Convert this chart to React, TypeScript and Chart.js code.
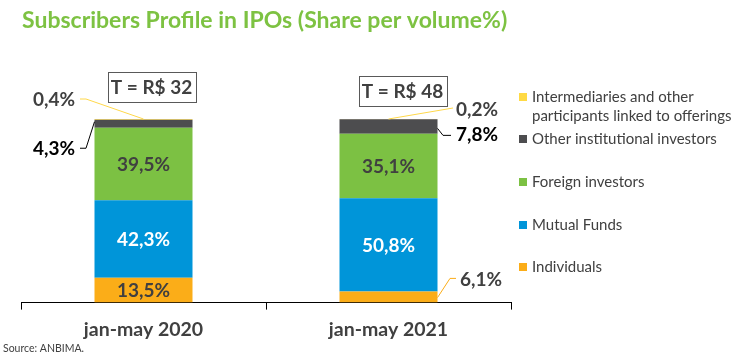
import React, { useEffect, useRef } from 'react';
import { Chart, registerables } from 'chart.js';
Chart.register(...registerables);

const categories = ['jan-may 2020', 'jan-may 2021'];
const totals = ['T = R$ 32', 'T = R$ 48'];
const individuals = [13.5, 6.1];
const mutualFunds = [42.3, 50.8];
const foreignInvestors = [39.5, 35.1];
const otherInstitutional = [4.3, 7.8];
const intermediaries = [0.4, 0.2];
const seriesNames = [
  'Individuals',
  'Mutual Funds',
  'Foreign investors',
  'Other institutional investors',
  'Intermediaries and other participants linked to offerings',
];
const legendLines = [
  ['Individuals'],
  ['Mutual Funds'],
  ['Foreign investors'],
  ['Other institutional investors'],
  ['Intermediaries and other', 'participants linked to offerings'],
];
const titleText = 'Subscribers Profile in IPOs (Share per volume%)';
const sourceText = 'Source: ANBIMA.';

const COLORS = ['#FBAD18', '#0095D9', '#7CC143', '#4D4D4F', '#FFDA44'];
const FONT = 'Lato, "Open Sans", sans-serif';
const DARK = '#404040';

const fmt = (v: number) => v.toFixed(1).replace('.', ',') + '%';

const overlay = {
  id: 'overlay',
  afterDatasetsDraw(chart: any) {
    const ctx = chart.ctx as CanvasRenderingContext2D;
    ctx.save();
    // title
    ctx.font = `bold 23px ${FONT}`;
    ctx.fillStyle = '#7DC242';
    ctx.textAlign = 'left';
    ctx.textBaseline = 'alphabetic';
    ctx.fillText(titleText, 22, 28);

    // source
    ctx.font = `10.5px ${FONT}`;
    ctx.fillStyle = DARK;
    ctx.fillText(sourceText, 3, 352);

    // legend
    const legendY = [267, 225, 182, 139, 97];
    ctx.font = `15px ${FONT}`;
    ctx.textBaseline = 'middle';
    for (let i = 0; i < seriesNames.length; i++) {
      const y = legendY[i];
      ctx.fillStyle = COLORS[i];
      ctx.fillRect(519, y - 4, 8, 8);
      ctx.fillStyle = DARK;
      legendLines[i].forEach((ln, k) => ctx.fillText(ln, 532, y + k * 19));
    }

    const metas = chart.data.datasets.map((_: any, i: number) => chart.getDatasetMeta(i));
    const bar = (ds: number, idx: number) => metas[ds].data[idx] as any;

    // inside labels
    ctx.font = `bold 19px ${FONT}`;
    ctx.textAlign = 'center';
    ctx.textBaseline = 'middle';
    const inside: [number, number, string][] = [
      [0, 0, DARK],
      [1, 0, '#FFFFFF'],
      [2, 0, DARK],
      [1, 1, '#FFFFFF'],
      [2, 1, DARK],
    ];
    inside.forEach(([ds, idx, col]) => {
      const b = bar(ds, idx);
      const v = chart.data.datasets[ds].data[idx];
      ctx.fillStyle = col;
      ctx.fillText(fmt(v), b.x, (b.y + b.base) / 2 + 1);
    });

    // totals boxes
    ctx.font = `bold 19px ${FONT}`;
    const boxOff = [[8, 17], [14, 13]];
    for (let i = 0; i < categories.length; i++) {
      const top = bar(4, i);
      const cx = top.x + boxOff[i][0];
      const bottom = top.y - boxOff[i][1];
      ctx.fillStyle = '#FFFFFF';
      ctx.fillRect(cx - 44, bottom - 30, 88, 30);
      ctx.strokeStyle = '#595959';
      ctx.lineWidth = 1;
      ctx.strokeRect(Math.round(cx - 44) + 0.5, Math.round(bottom - 30) + 0.5, 88, 30);
      ctx.fillStyle = DARK;
      ctx.fillText(totals[i], cx, bottom - 14);
    }

    const line = (pts: number[][], color: string) => {
      ctx.beginPath();
      ctx.strokeStyle = color;
      ctx.lineWidth = 1;
      pts.forEach((p, k) => (k ? ctx.lineTo(p[0], p[1]) : ctx.moveTo(p[0], p[1])));
      ctx.stroke();
    };

    // outside labels, bar 1
    ctx.textAlign = 'left';
    ctx.font = `bold 19px ${FONT}`;
    {
      const y4 = bar(4, 0);
      const y3 = bar(3, 0);
      const left = y4.x - y4.width / 2;
      ctx.fillStyle = DARK;
      ctx.fillText(fmt(intermediaries[0]), 33, y4.y - 19);
      line([[80, y4.y - 20], [86, y4.y - 20], [y4.x, y4.y]], '#FFD84A');
      ctx.fillStyle = '#000000';
      ctx.fillText(fmt(otherInstitutional[0]), 33, y3.y + 29);
      line([[80, y3.y + 28.5], [86, y3.y + 28.5], [left, y3.y + 2]], '#000000');
    }
    // outside labels, bar 2
    {
      const y4 = bar(4, 1);
      const y3 = bar(3, 1);
      const y0 = bar(0, 1);
      const right = y4.x + y4.width / 2;
      ctx.fillStyle = DARK;
      ctx.fillText(fmt(intermediaries[1]), 456, y4.y - 9);
      line([[y4.x, y4.y], [453, y4.y - 11]], '#FFD84A');
      ctx.fillStyle = '#000000';
      ctx.fillText(fmt(otherInstitutional[1]), 456, y3.y + 16);
      line([[right, y3.y + 9], [443, y3.y + 16], [451, y3.y + 16]], '#000000');
      ctx.fillStyle = DARK;
      ctx.fillText(fmt(individuals[1]), 460, y0.y - 12);
      line([[right, y0.base - 5], [450, y0.y - 13], [456, y0.y - 13]], '#FBAD18');
    }
    ctx.restore();
  },
};

export default function App() {
  const ref = useRef<HTMLCanvasElement>(null);
  useEffect(() => {
    document.body.style.margin = '0';
    const chart = new Chart(ref.current!, {
      type: 'bar',
      data: {
        labels: categories,
        datasets: [individuals, mutualFunds, foreignInvestors, otherInstitutional, intermediaries].map(
          (d, i) => ({
            label: seriesNames[i],
            data: d,
            backgroundColor: COLORS[i],
            borderWidth: 0,
            categoryPercentage: 0.4,
            barPercentage: 1,
          })
        ),
      },
      options: {
        responsive: false,
        animation: false,
        layout: { padding: { left: 21, right: 239, top: 119, bottom: 6 } },
        plugins: { legend: { display: false }, title: { display: false }, tooltip: { enabled: false } },
        scales: {
          x: {
            stacked: true,
            border: { display: true, color: '#000000', width: 1 },
            grid: { display: true, drawOnChartArea: false, drawTicks: true, tickLength: 7, color: '#000000', offset: true },
            ticks: { color: DARK, padding: 8, font: { family: FONT, size: 19.5, weight: 'bold' } },
          },
          y: { stacked: true, display: false, min: 0, max: 100 },
        },
      },
      plugins: [overlay],
    });
    return () => chart.destroy();
  }, []);
  return (
    <div style={{ width: 750, height: 355 }}>
      <canvas ref={ref} width={750} height={355} />
    </div>
  );
}
